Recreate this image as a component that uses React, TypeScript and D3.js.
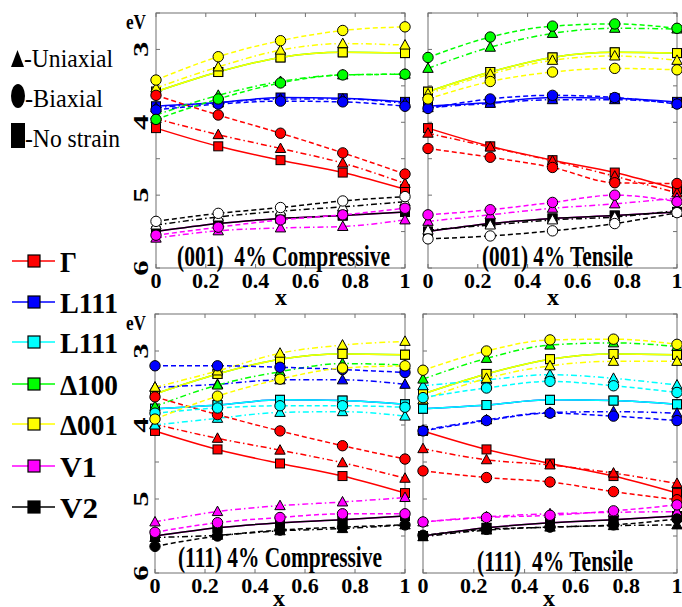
import React from 'react';
import * as d3 from 'd3';

// ---------------- DATA ----------------
const xValues = [0, 0.25, 0.5, 0.75, 1];
const xTicks = [0, 0.2, 0.4, 0.6, 0.8, 1];
const xTickLabels = ['0', '0.2', '0.4', '0.6', '0.8', '1'];
const yTicks = [2.5, 3, 3.5, 4, 4.5, 5, 5.5, 6];
const yTickLabels = [3, 4, 5, 6];

const bandNames = ['Γ', 'L111', 'L111', 'Δ100', 'Δ001', 'V1', 'V2'];
const bandColors = ['#ff0000', '#0000ff', '#00ffff', '#00ff00', '#ffff00', '#ff00ff', '#000000'];
const strainNames = ['Uniaxial', 'Biaxial', 'No strain'];

// no strain (identical in all panels), band order as bandNames
const noStrain = [
  [4.08, 4.33, 4.52, 4.69, 4.92],
  [3.78, 3.73, 3.66, 3.67, 3.72],
  [3.78, 3.73, 3.66, 3.67, 3.72],
  [3.58, 3.31, 3.11, 3.04, 3.05],
  [3.58, 3.31, 3.11, 3.04, 3.05],
  [5.50, 5.39, 5.32, 5.28, 5.23],
  [5.50, 5.39, 5.32, 5.28, 5.23],
];

// (001) 4% Compressive
const comp001Uniaxial = [
  [3.95, 4.17, 4.36, 4.56, 4.84],
  [3.80, 3.73, 3.68, 3.68, 3.74],
  null,
  [3.90, 3.63, 3.44, 3.35, 3.34],
  [3.53, 3.24, 3.01, 2.92, 2.94],
  [5.59, 5.49, 5.45, 5.43, 5.34],
  [5.41, 5.30, 5.22, 5.16, 5.09],
];
const comp001Biaxial = [
  [3.63, 3.90, 4.15, 4.42, 4.71],
  [3.83, 3.75, 3.71, 3.72, 3.78],
  null,
  [3.96, 3.68, 3.46, 3.35, 3.34],
  [3.42, 3.10, 2.88, 2.74, 2.69],
  [5.55, 5.44, 5.34, 5.27, 5.18],
  [5.36, 5.25, 5.17, 5.08, 5.02],
];

// (001) 4% Tensile
const tens001Uniaxial = [
  [4.15, 4.34, 4.53, 4.74, 4.97],
  [3.80, 3.74, 3.69, 3.69, 3.74],
  null,
  [3.26, 2.97, 2.78, 2.71, 2.72],
  [3.61, 3.34, 3.15, 3.09, 3.15],
  [5.36, 5.27, 5.18, 5.12, 5.04],
  [5.48, 5.41, 5.34, 5.30, 5.21],
];
const tens001Biaxial = [
  [4.36, 4.48, 4.62, 4.83, 4.84],
  [3.81, 3.68, 3.63, 3.66, 3.75],
  null,
  [3.11, 2.83, 2.68, 2.65, 2.71],
  [3.68, 3.44, 3.31, 3.26, 3.28],
  [5.27, 5.20, 5.10, 5.00, 5.09],
  [5.60, 5.56, 5.49, 5.39, 5.24],
];

// (111) 4% Compressive
const comp111Uniaxial = [
  [3.99, 4.18, 4.34, 4.51, 4.72],
  [3.49, 3.45, 3.39, 3.39, 3.45],
  [4.00, 3.91, 3.83, 3.82, 3.88],
  [3.75, 3.46, 3.28, 3.17, 3.19],
  [3.49, 3.27, 3.03, 2.92, 2.87],
  [5.31, 5.17, 5.09, 5.04, 4.98],
  [5.52, 5.49, 5.43, 5.40, 5.35],
];
const comp111Biaxial = [
  [3.62, 3.86, 4.08, 4.28, 4.46],
  [3.20, 3.20, 3.22, 3.25, 3.29],
  [3.84, 3.77, 3.74, 3.74, 3.76],
  null,
  [3.92, 3.61, 3.38, 3.23, 3.20],
  [5.45, 5.32, 5.25, 5.20, 5.20],
  [5.64, 5.50, 5.42, 5.38, 5.35],
];

// (111) 4% Tensile
const tens111Uniaxial = [
  [4.32, 4.47, 4.54, 4.65, 4.79],
  [4.07, 3.93, 3.83, 3.82, 3.84],
  [3.47, 3.39, 3.32, 3.37, 3.46],
  [3.38, 3.10, 2.92, 2.89, 2.94],
  [3.66, 3.37, 3.20, 3.14, 3.14],
  [5.31, 5.24, 5.20, 5.18, 5.17],
  [5.51, 5.42, 5.38, 5.36, 5.35],
];
const tens111Biaxial = [
  [4.62, 4.71, 4.77, 4.90, 5.01],
  [4.08, 3.94, 3.84, 3.88, 3.94],
  [3.63, 3.50, 3.41, 3.47, 3.56],
  null,
  [3.26, 3.00, 2.85, 2.84, 2.91],
  [5.31, 5.25, 5.22, 5.16, 5.08],
  [5.49, 5.41, 5.38, 5.35, 5.27],
];

// ---------------- LAYOUT ----------------
const FONT = '"Liberation Serif", "Times New Roman", serif';

const panels = [
  { x0: 156, x1: 405, y0: 13, y1: 268, title: '(001)  4% Compressive', tx: 177, tw: 213, ty: 266,
    yLabels: true, xlx: 281, xly: 305, uni: comp001Uniaxial, bi: comp001Biaxial, cyan: false, whiteV2: true },
  { x0: 428, x1: 677, y0: 13, y1: 268, title: '(001) 4% Tensile', tx: 482, tw: 151, ty: 266,
    yLabels: false, xlx: 553, xly: 305, uni: tens001Uniaxial, bi: tens001Biaxial, cyan: false, whiteV2: true },
  { x0: 155, x1: 405, y0: 314, y1: 573, title: '(111) 4% Compressive', tx: 178, tw: 204, ty: 567,
    yLabels: true, xlx: 279, xly: 606, uni: comp111Uniaxial, bi: comp111Biaxial, cyan: true, whiteV2: false },
  { x0: 423, x1: 677, y0: 314, y1: 573, title: '(111)  4% Tensile', tx: 477, tw: 156, ty: 571,
    yLabels: false, xlx: 549, xly: 606, uni: tens111Uniaxial, bi: tens111Biaxial, cyan: true, whiteV2: false },
];

type MarkerKind = 'square' | 'triangle' | 'circle';

function Marker({ kind, x, y, fill }: { kind: MarkerKind; x: number; y: number; fill: string }) {
  if (kind === 'square') {
    return <rect x={x - 4.5} y={y - 4.5} width={9} height={9} fill={fill} stroke="#000" strokeWidth={1} />;
  }
  if (kind === 'triangle') {
    return <path d={`M${x},${y - 5.5}L${x + 5.2},${y + 4}L${x - 5.2},${y + 4}Z`} fill={fill} stroke="#000" strokeWidth={1} />;
  }
  return <circle cx={x} cy={y} r={5.2} fill={fill} stroke="#000" strokeWidth={1} />;
}

function Panel({ p }: { p: typeof panels[number] }) {
  const x = d3.scaleLinear().domain([0, 1]).range([p.x0, p.x1]);
  const y = d3.scaleLinear().domain([2.5, 6]).range([p.y0, p.y1]);
  const line = d3.line<number>()
    .x((_, i) => x(xValues[i]))
    .y((d) => y(d))
    .curve(d3.curveMonotoneX);

  const groups: { data: (number[] | null)[]; kind: MarkerKind; dash?: string }[] = [
    { data: noStrain, kind: 'square' },
    { data: p.uni, kind: 'triangle', dash: '6,3,1.5,3' },
    { data: p.bi, kind: 'circle', dash: '5,3' },
  ];

  const series: JSX.Element[] = [];
  groups.forEach((g, gi) => {
    g.data.forEach((vals, bi) => {
      if (!vals) return;
      if (bi === 2 && !p.cyan) return;
      const color = bandColors[bi];
      const fill = bi === 6 && p.whiteV2 && gi > 0 ? '#ffffff' : color;
      series.push(
        <g key={`${gi}-${bi}`}>
          <path d={line(vals) || ''} fill="none" stroke={color} strokeWidth={1.5}
            strokeDasharray={g.dash} />
          {vals.map((v, i) => (
            <Marker key={i} kind={g.kind} x={x(xValues[i])} y={y(v)} fill={fill} />
          ))}
        </g>
      );
    });
  });

  const axisColor = '#707070';
  return (
    <g>
      <rect x={p.x0} y={p.y0} width={p.x1 - p.x0} height={p.y1 - p.y0} fill="#fff" stroke={axisColor} strokeWidth={1} />
      {xTicks.map((t) => (
        <g key={`xt${t}`}>
          <line x1={x(t)} x2={x(t)} y1={p.y0} y2={p.y0 + 4} stroke={axisColor} />
          <line x1={x(t)} x2={x(t)} y1={p.y1} y2={p.y1 - 4} stroke={axisColor} />
        </g>
      ))}
      {yTicks.map((t) => (
        <g key={`yt${t}`}>
          <line x1={p.x0} x2={p.x0 + 4} y1={y(t)} y2={y(t)} stroke={axisColor} />
          <line x1={p.x1} x2={p.x1 - 4} y1={y(t)} y2={y(t)} stroke={axisColor} />
        </g>
      ))}
      {series}
      <text x={p.tx} y={p.ty} fontFamily={FONT} fontWeight="bold" fontSize={30}
        textLength={p.tw} lengthAdjust="spacingAndGlyphs" style={{ whiteSpace: 'pre' }}>{p.title}</text>
      {xTicks.map((t, i) => (
        <text key={`xl${t}`} x={x(t)} y={p.y1 + 20} textAnchor="middle" fontFamily={FONT}
          fontWeight="bold" fontSize={22}>{xTickLabels[i]}</text>
      ))}
      <text x={p.xlx} y={p.xly} textAnchor="middle" fontFamily={FONT} fontWeight="bold" fontSize={24}>x</text>
      {p.yLabels && yTickLabels.map((t) => (
        <text key={`yl${t}`} transform={`translate(148,${y(t)}) rotate(-90) scale(1.4,1)`} textAnchor="middle"
          fontFamily={FONT} fontWeight="bold" fontSize={22}>{t}</text>
      ))}
      {p.yLabels && (
        <text x={126} y={p.y0 + 16} fontFamily={FONT} fontWeight="bold" fontSize={22}
          textLength={20} lengthAdjust="spacingAndGlyphs">eV</text>
      )}
    </g>
  );
}

export default function App() {
  const legendRows = [261, 302, 342, 384, 424, 466, 507];
  const legendWidths = [17, 58, 58, 58, 58, 37, 38];
  return (
    <svg width={682} height={607} style={{ position: 'absolute', left: 0, top: 0, background: '#fff' }}>
      <rect x={0} y={0} width={682} height={607} fill="#fff" />
      {/* strain legend */}
      <path d="M11,67L17.5,50L24,67Z" fill="#000" />
      <text x={24} y={67} fontFamily={FONT} fontSize={26} textLength={89} lengthAdjust="spacingAndGlyphs">-{strainNames[0]}</text>
      <ellipse cx={18} cy={96} rx={7} ry={12} fill="#000" />
      <text x={25} y={107} fontFamily={FONT} fontSize={26} textLength={78} lengthAdjust="spacingAndGlyphs">-{strainNames[1]}</text>
      <rect x={11} y={123} width={14} height={25} fill="#000" />
      <text x={25} y={147} fontFamily={FONT} fontSize={26} textLength={95} lengthAdjust="spacingAndGlyphs">-{strainNames[2]}</text>
      {/* band legend */}
      {bandNames.map((n, i) => (
        <g key={`lg${i}`}>
          <line x1={12} x2={55} y1={legendRows[i]} y2={legendRows[i]} stroke={bandColors[i]} strokeWidth={1.5} />
          <rect x={28} y={legendRows[i] - 6} width={12} height={12} fill={bandColors[i]} stroke="#000" strokeWidth={1.2} />
          <text x={60} y={legendRows[i] + 11} fontFamily={FONT} fontWeight="bold" fontSize={29}
            textLength={legendWidths[i]} lengthAdjust="spacingAndGlyphs">{n}</text>
        </g>
      ))}
      {panels.map((p, i) => <Panel key={i} p={p} />)}
    </svg>
  );
}
